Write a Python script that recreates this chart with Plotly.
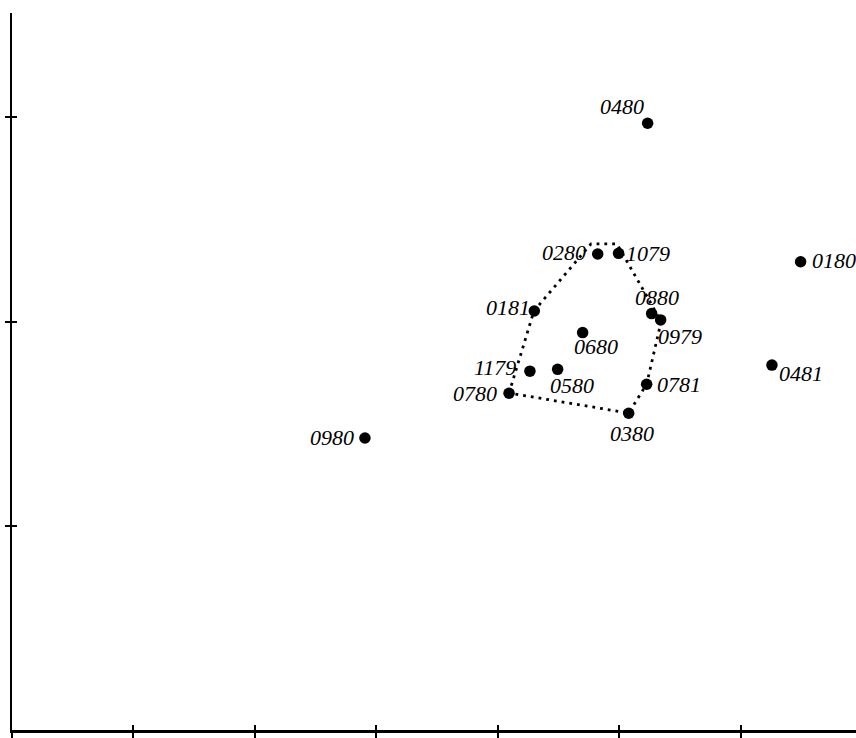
import plotly.graph_objects as go

# ---- data (arbitrary axis units) ----
labels = ["0480", "0280", "1079", "0180", "0181", "0880", "0979", "0680",
          "1179", "0580", "0481", "0780", "0781", "0380", "0980"]
x_vals = [5.232, 4.821, 4.993, 6.491, 4.299, 5.265, 5.339, 4.697,
          4.263, 4.491, 6.255, 4.091, 5.224, 5.076, 2.905]
y_vals = [2.971, 2.331, 2.334, 2.293, 2.052, 2.039, 2.008, 1.946,
          1.757, 1.766, 1.787, 1.649, 1.693, 1.551, 1.430]

# dotted envelope around the central group
hull_x = [4.091, 4.296, 4.765, 4.979, 5.267, 5.342, 5.224, 5.076, 4.091]
hull_y = [1.650, 2.052, 2.380, 2.380, 2.081, 1.998, 1.694, 1.552, 1.650]

x_ticks = [0, 1, 2, 3, 4, 5, 6]
y_ticks = [1, 2, 3]

# ---- label placement (style) ----
label_style = {
    "0480": ("right", -3, 17),
    "0280": ("right", -11, 1),
    "1079": ("left", 6, 0),
    "0180": ("left", 10, 1),
    "0181": ("right", -3, 3),
    "0880": ("center", 5, 16),
    "0979": ("left", -4, -17),
    "0680": ("left", -10, -14),
    "1179": ("right", -13, 4),
    "0580": ("left", -9, -16),
    "0481": ("left", 6, -8),
    "0780": ("right", -11, 0),
    "0781": ("left", 9, 0),
    "0380": ("center", 3, -20),
    "0980": ("right", -10, 0),
}

fig = go.Figure()
fig.add_trace(go.Scatter(
    x=hull_x, y=hull_y, mode="lines",
    line=dict(color="black", width=2.8, dash="2.8px,5px"),
    hoverinfo="skip", showlegend=False))
fig.add_trace(go.Scatter(
    x=x_vals, y=y_vals, mode="markers",
    marker=dict(color="black", size=11.5),
    showlegend=False))

annotations = []
for lab, xv, yv in zip(labels, x_vals, y_vals):
    anchor, dx, dy = label_style[lab]
    annotations.append(dict(
        x=xv, y=yv, xref="x", yref="y", text=f"<i>{lab}</i>",
        showarrow=False, xanchor=anchor, yanchor="middle",
        xshift=dx, yshift=dy, borderpad=0,
        font=dict(family="Liberation Serif", size=22, color="black")))

X_RANGE = [0, 6.947]
Y_RANGE = [0, 3.511]

axis_common = dict(showgrid=False, zeroline=False, showticklabels=False,
                   ticklen=5, tickwidth=2, tickcolor="black")

fig.update_layout(
    width=856, height=738,
    margin=dict(l=12, r=0, t=13, b=8),
    paper_bgcolor="white", plot_bgcolor="white",
    showlegend=False,
    annotations=annotations,
    xaxis=dict(range=X_RANGE, tickvals=x_ticks, ticks="outside",
               showline=True, linecolor="black", linewidth=2.5, **axis_common),
    yaxis=dict(range=Y_RANGE, tickvals=y_ticks, ticks="outside",
               showline=True, linecolor="black", linewidth=2.2, **axis_common),
    xaxis2=dict(range=X_RANGE, tickvals=x_ticks, ticks="inside",
                overlaying="x", anchor="y", side="bottom", showline=False,
                **axis_common),
    yaxis2=dict(range=Y_RANGE, tickvals=y_ticks, ticks="inside",
                overlaying="y", anchor="x", side="left", showline=False,
                **axis_common),
)
fig.add_trace(go.Scatter(x=[None], y=[None], xaxis="x2", yaxis="y2",
                         mode="markers", showlegend=False, hoverinfo="skip"))

fig.write_html("out.html",
               config={"displayModeBar": False},
               post_script="document.body.style.margin='0';"
                           "document.body.style.overflow='hidden';")
